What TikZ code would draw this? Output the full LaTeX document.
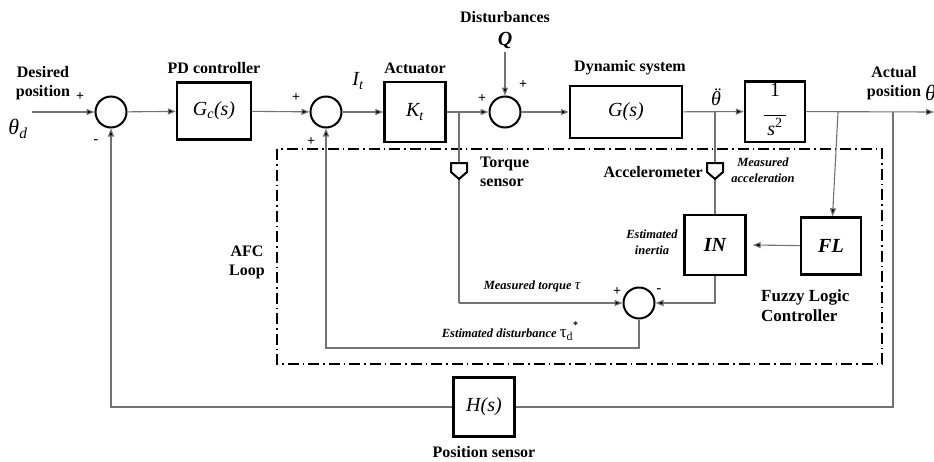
\documentclass[tikz,border=0pt]{standalone}
\usepackage{fontspec}
\setmainfont{Liberation Serif}
\usetikzlibrary{arrows.meta,calc}
\begin{document}
\begin{tikzpicture}[x=1pt,y=-1pt,
  wire/.style={draw=black!55, line width=1.1pt},
  arr/.style={wire, -{Triangle[length=8pt,width=6pt,fill=black]}},
  blk/.style={draw, line width=2.4pt, inner sep=0pt},
  sumj/.style={draw, circle, line width=2pt, minimum size=31pt, inner sep=0pt},
  lbl/.style={font=\bfseries\fontsize{16}{19}\selectfont, align=center, inner sep=0pt},
  ilbl/.style={font=\bfseries\itshape\fontsize{12.5}{16}\selectfont, align=center, inner sep=0pt},
  mth/.style={font=\itshape\fontsize{20}{22}\selectfont},
  sgn/.style={font=\bfseries\fontsize{14}{14}\selectfont, inner sep=0pt},
  afc/.style={line width=1.8pt, dash pattern=on 11pt off 4pt on 1.5pt off 4pt},
  sens/.style={line width=2pt, fill=white}
]
\useasboundingbox (0,0) rectangle (934,461);

% AFC box
\draw[afc] (277,149) rectangle (882,364);

% blocks
\node[sumj] (s1) at (111,112) {};
\node[blk, minimum width=74pt, minimum height=57pt, mth] (gc) at (214,111) {G\textsubscript{\textit{c}}(s)};
\node[sumj] (s2) at (326,112) {};
\node[blk, minimum width=61pt, minimum height=60pt, mth] (kt) at (415,112) {K\textsubscript{\textit{t}}};
\node[sumj] (s3) at (505,112) {};
\node[blk, minimum width=112pt, minimum height=52pt, mth] (g) at (626,112) {G(s)};
\node[blk, minimum width=60pt, minimum height=59pt] (int) at (775,111.5)
  {\fontsize{20}{22}\selectfont\begin{tabular}{@{}c@{}}1\\[-3pt]\rule{22pt}{0.7pt}\\[-4pt]\textit{s}\textsuperscript{\upshape 2}\end{tabular}};
\node[blk, minimum width=61pt, minimum height=60pt, font=\bfseries\itshape\fontsize{20}{22}\selectfont] (in) at (715,245) {IN};
\node[blk, minimum width=60pt, minimum height=57pt, font=\bfseries\itshape\fontsize{20}{22}\selectfont] (fl) at (831,246) {FL};
\node[sumj] (s4) at (639,303) {};
\node[blk, minimum width=61pt, minimum height=59pt, mth] (h) at (484,407) {H(s)};

% coordinates
\coordinate (inp) at (32,112);
\coordinate (b1) at (459,112);
\coordinate (b2) at (715,112);
\coordinate (b3) at (838,112);
\coordinate (b4) at (893,112);
\coordinate (outp) at (934,112);
\coordinate (q) at (505,52);
\coordinate (c1) at (893,407);
\coordinate (c2) at (111,407);
\coordinate (c3) at (459,303);
\coordinate (c4) at (715,303);
\coordinate (c5) at (639,348);
\coordinate (c6) at (326,348);

% sensors
\coordinate (ts) at (459,163);
\coordinate (as) at (715,163);

% main path
\draw[arr] (inp) -- (s1);
\draw[arr] (s1) -- (gc);
\draw[arr] (gc) -- (s2);
\draw[arr] (s2) -- (kt);
\draw[arr] (kt) -- (s3);
\draw[arr] (q) -- (s3);
\draw[arr] (s3) -- (g);
\draw[arr] (g) -- (int);
\draw[arr] (int) -- (outp);
\draw[arr] (b3) -- (fl);
\draw[arr] (fl) -- ([xshift=6pt]in.east);
\draw[wire] (b4) -- (c1) -- (h.east);
\draw[arr] (h.west) -- (c2) -- (s1);
% AFC loop wiring
\draw[wire] (b1) -- (c3);
\draw[arr] (c3) -- (s4);
\draw[wire] (b2) -- (in.north);
\draw[arr] (in.south) -- (c4) -- (s4);
\draw[arr] (s4) -- (c5) -- (c6) -- (s2);

% sensor shapes
\draw[sens] ($(ts)+(-8,0)$) -- ++(16,0) -- ++(0,9) -- ++(-8,7) -- ++(-8,-7) -- cycle;
\draw[sens] ($(as)+(-8,0)$) -- ++(16,0) -- ++(0,9) -- ++(-8,7) -- ++(-8,-7) -- cycle;

% labels
\node[lbl] (ldes) at (43,83) {Desired\\position};
\node[font=\itshape\fontsize{22}{22}\selectfont, inner sep=0pt] (lthd) at (18,129) {θ\textsubscript{\textit{d}}};
\node[lbl] (lpd) at (214,68) {PD controller};
\node[lbl] (lact) at (415,68) {Actuator};
\node[lbl] (ldist) at (505,17) {Disturbances};
\node[font=\bfseries\itshape\fontsize{20}{22}\selectfont, inner sep=0pt] (lq) at (505,40) {Q};
\node[lbl] (ldyn) at (630,68) {Dynamic system};
\node[font=\itshape\fontsize{20}{22}\selectfont, inner sep=0pt] (lit) at (358,81) {I\textsubscript{\textit{t}}};
\node[font=\itshape\fontsize{20}{22}\selectfont, inner sep=0pt] (lacc) at (716,97)
  {\makebox[0pt][l]{\raisebox{4pt}{\kern3.5pt\upshape ¨}}θ};
\node[lbl] (lactual) at (894,83) {Actual\\position};
\node[font=\itshape\fontsize{22}{22}\selectfont, inner sep=0pt, anchor=west] (lth) at (925,93) {θ};
\node[lbl, anchor=west, align=left] (ltorq) at (480,172) {Torque\\sensor};
\node[lbl, anchor=east] (laccel) at (703,172) {Accelerometer};
\node[ilbl] (lmacc) at (763,170) {Measured\\acceleration};
\node[ilbl] (lest) at (652,242) {Estimated\\inertia};
\node[lbl, anchor=west, align=left, font=\bfseries\fontsize{17}{20}\selectfont] (lfuzzy) at (761,306) {Fuzzy Logic\\Controller};
\node[lbl] (lafc) at (247,262) {AFC\\Loop};
\node[ilbl] (lmt) at (532,286) {Measured torque {\mdseries\fontsize{15}{15}\selectfont τ}};
\node[ilbl] (led) at (510,331) {Estimated disturbance {\mdseries\upshape\fontsize{17}{17}\selectfont τ\textsubscript{d}\raisebox{9pt}{\bfseries\fontsize{10}{10}\selectfont *}}};
\node[lbl] (lpos) at (484,452) {Position sensor};

% signs
\node[sgn] at (80,97) {+};
\node[sgn] at (96,142) {-};
\node[sgn] at (296,98) {+};
\node[sgn] at (311,142) {+};
\node[sgn] at (482,99) {+};
\node[sgn] at (523,85) {+};
\node[sgn] at (617,292) {+};
\node[sgn] at (659,291) {-};
\end{tikzpicture}
\end{document}
